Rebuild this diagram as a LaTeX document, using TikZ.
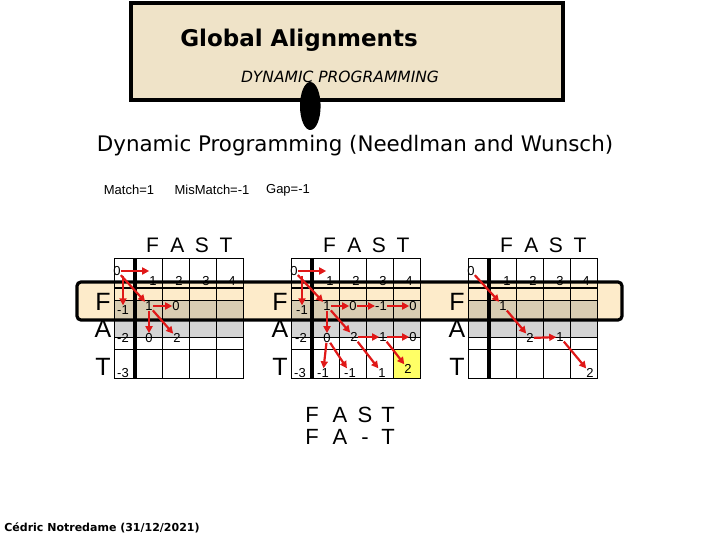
\documentclass[tikz,border=0pt]{standalone}
\usepackage{fontspec}
\setmainfont{Liberation Sans}
\newfontfamily\dvs{DejaVu Sans}
\usetikzlibrary{arrows.meta,calc}
\definecolor{parch}{HTML}{EFE3C8}
\definecolor{peach}{HTML}{FDEBCA}
\definecolor{tancell}{HTML}{D8CCB2}
\definecolor{cellgray}{HTML}{D4D4D4}
\definecolor{arrred}{HTML}{E01818}
\definecolor{hiyel}{HTML}{FFFF66}
\begin{document}
\begin{tikzpicture}[x=1pt,y=-1pt,
  num/.style={font=\fontsize{13}{13}\selectfont, inner sep=0pt},
  arr/.style={draw=arrred, line width=2.2pt, -{Triangle[length=7pt,width=7pt]}},
  hdr/.style={font=\fontsize{21}{21}\selectfont, inner sep=0pt},
  rowlab/.style={font=\fontsize{25}{25}\selectfont, inner sep=0pt},
  alig/.style={font=\fontsize{22}{22}\selectfont, inner sep=0pt, anchor=base},
  gridline/.style={line width=0.8pt, black},
  thickline/.style={line width=3.2pt, black}]
\useasboundingbox (0,0) rectangle (720,540);

% title box
\draw[line width=3.5pt, fill=parch] (131,3) rectangle (563,100);
\node[font=\dvs\bfseries\fontsize{23}{23}\selectfont, inner sep=0pt] (title) at (299,40) {Global Alignments};
\node[font=\dvs\itshape\fontsize{15.5}{15.5}\selectfont, inner sep=0pt] (subtitle) at (340,77) {DYNAMIC PROGRAMMING};
\fill (310.3,106) ellipse [x radius=10.3pt, y radius=24pt];

\node[font=\dvs\fontsize{21.4}{21.4}\selectfont, inner sep=0pt] (heading) at (355,146) {Dynamic Programming (Needlman and Wunsch)};

\node[font=\fontsize{13}{13}\selectfont, inner sep=0pt] (match) at (129,190) {Match=1};
\node[font=\fontsize{13}{13}\selectfont, inner sep=0pt] (mismatch) at (212,190) {MisMatch=-1};
\node[font=\fontsize{13}{13}\selectfont, inner sep=0pt] (gap) at (288,190) {Gap=-1};

% band fill
\fill[peach, rounded corners=4pt] (77,282) rectangle (622,320);

% grids
\foreach \L in {114,291,468}{
  \fill[tancell] (\L,300) rectangle ({\L+129},320);
  \fill[cellgray] (\L,320) rectangle ({\L+129},337);
}
\fill[hiyel] (393,349) rectangle (420,378);
\foreach \L in {114,291,468}{
  \draw[gridline] (\L,258) rectangle ({\L+129},378);
  \foreach \yy in {300,320,337,349}{
    \draw[gridline] (\L,\yy) -- ({\L+129},\yy);
  }
  \foreach \xx in {48,75,102}{
    \draw[gridline] ({\L+\xx},258) -- ({\L+\xx},378);
  }
  \draw[thickline] ({\L+21},258) -- ({\L+21},378);
  \draw[line width=2.5pt] (\L,288) -- ({\L+129},288);
}
% band border
\draw[line width=3.2pt, rounded corners=4pt] (77,282) rectangle (622,320);

% headers and row labels
\foreach \L/\g in {114/a,291/b,468/c}{
  \node[hdr] (hF\g) at ({\L+38.5},245) {F};
  \node[hdr] (hA\g) at ({\L+63.3},245) {A};
  \node[hdr] (hS\g) at ({\L+87.8},245) {S};
  \node[hdr] (hT\g) at ({\L+112},245) {T};
  \node[rowlab] (rF\g) at ({\L-11},302) {F};
  \node[rowlab] (rA\g) at ({\L-11},329) {A};
  \node[rowlab] (rT\g) at ({\L-11},367) {T};
}

% grid 1 numbers
\node[num] (g1z) at (117,271) {0};
\node[num] (g1h1) at (153,281) {1};
\node[num] (g1h2) at (179,281) {2};
\node[num] (g1h3) at (206,281) {3};
\node[num] (g1h4) at (232,281) {4};
\node[num] (g1f0) at (123,310) {-1};
\node[num] (g1f1) at (149,306) {1};
\node[num] (g1f2) at (176,306) {0};
\node[num] (g1a0) at (123,338) {-2};
\node[num] (g1a1) at (149,338) {0};
\node[num] (g1a2) at (177,338) {2};
\node[num] (g1t0) at (123,373) {-3};

% grid 2 numbers
\node[num] (g2z) at (294,271) {0};
\node[num] (g2h1) at (330,281) {1};
\node[num] (g2h2) at (356,281) {2};
\node[num] (g2h3) at (383,281) {3};
\node[num] (g2h4) at (409,281) {4};
\node[num] (g2f0) at (302,310) {-1};
\node[num] (g2f1) at (327,306) {1};
\node[num] (g2f2) at (353,306) {0};
\node[num] (g2f3) at (381,306) {-1};
\node[num] (g2f4) at (413,306) {0};
\node[num] (g2a0) at (301,338) {-2};
\node[num] (g2a1) at (327,338) {0};
\node[num] (g2a2) at (354,337) {2};
\node[num] (g2a3) at (383,337) {1};
\node[num] (g2a4) at (413,337) {0};
\node[num] (g2t0) at (300,373) {-3};
\node[num] (g2t1) at (323,373) {-1};
\node[num] (g2t2) at (350,373) {-1};
\node[num] (g2t3) at (382,373) {1};
\node[num] (g2t4) at (408,369) {2};

% grid 3 numbers
\node[num] (g3z) at (471,271) {0};
\node[num] (g3h1) at (507,281) {1};
\node[num] (g3h2) at (533,281) {2};
\node[num] (g3h3) at (560,281) {3};
\node[num] (g3h4) at (586,281) {4};
\node[num] (g3f1) at (503,306) {1};
\node[num] (g3a2) at (530,338) {2};
\node[num] (g3a3) at (560,337) {1};
\node[num] (g3t4) at (590,373) {2};

% arrows grid 1
\draw[arr] (g1z.east) -- (g1z.east -| g1h1.west);
\draw[arr] (g1z.south -| g1f0.north) -- (g1f0.north);
\draw[arr] (g1z) -- (g1f1);
\draw[arr] (g1f1) -- (g1f2);
\draw[arr] (g1f1) -- (g1a1);
\draw[arr] (g1f1) -- (g1a2);

% arrows grid 2
\draw[arr] (g2z.east) -- (g2z.east -| g2h1.west);
\draw[arr] (g2z.south -| g2f0.north) -- (g2f0.north);
\draw[arr] (g2z) -- (g2f1);
\draw[arr] (g2f1) -- (g2f2);
\draw[arr] (g2f2) -- (g2f3);
\draw[arr] (g2f3) -- (g2f4);
\draw[arr] (g2f1) -- (g2a1);
\draw[arr] (g2f1) -- (g2a2);
\draw[arr] (g2a2) -- (g2a3);
\draw[arr] (g2a3) -- (g2a4);
\draw[arr] (g2a1) -- (g2t1);
\draw[arr] (g2a1) -- (g2t2);
\draw[arr] (g2a2) -- (g2t3);
\draw[arr] (g2a3) -- (g2t4);

% arrows grid 3
\draw[arr] (g3z) -- (g3f1);
\draw[arr] (g3f1) -- (g3a2);
\draw[arr] (g3a2) -- (g3a3);
\draw[arr] (g3a3) -- (g3t4);

% alignment
\node[alig] (s1) at (312,422) {F};
\node[alig] (s2) at (340,422) {A};
\node[alig] (s3) at (365,422) {S};
\node[alig] (s4) at (388,422) {T};
\node[alig] (t1) at (312,444) {F};
\node[alig] (t2) at (340,444) {A};
\node[alig] (t3) at (365,444) {-};
\node[alig] (t4) at (388,444) {T};

\node[font=\dvs\bfseries\fontsize{11}{11}\selectfont, inner sep=0pt] (footer) at (102,528) {Cédric Notredame (31/12/2021)};
\end{tikzpicture}
\end{document}
